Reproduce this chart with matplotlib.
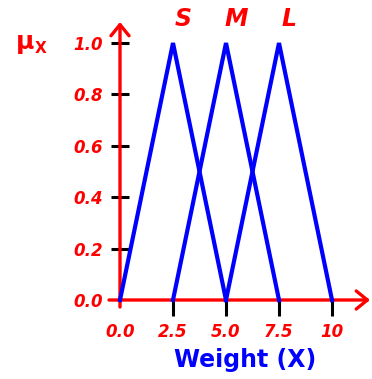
import matplotlib
matplotlib.use("Agg")
import matplotlib.pyplot as plt

# Data
sets = ["S", "M", "L"]
set_x = [[0.0, 2.5, 5.0], [2.5, 5.0, 7.5], [5.0, 7.5, 10.0]]
set_mu = [[0.0, 1.0, 0.0], [0.0, 1.0, 0.0], [0.0, 1.0, 0.0]]
x_ticks = [0.0, 2.5, 5.0, 7.5, 10.0]
x_tick_labels = ["0.0", "2.5", "5.0", "7.5", "10"]
y_ticks = [0.0, 0.2, 0.4, 0.6, 0.8, 1.0]
y_tick_labels = ["0.0", "0.2", "0.4", "0.6", "0.8", "1.0"]

W, H = 372, 379
fig = plt.figure(figsize=(W / 100, H / 100), dpi=100)
ax = fig.add_axes([0, 0, 1, 1])
sx = 21.2
sy = 257.0
x0p, y0p = 120.0, 300.0
ax.set_xlim(-x0p / sx, (W - x0p) / sx)
ax.set_ylim(-(H - y0p) / sy, y0p / sy)

for s in ["top", "right"]:
    ax.spines[s].set_visible(False)
for s in ["left", "bottom"]:
    ax.spines[s].set_position(("data", 0))
    ax.spines[s].set_visible(False)

red = "#ff0000"
blue = "#0000ff"

# Axes with arrows
ax.annotate("", xy=((370 - x0p) / sx, 0), xytext=((109 - x0p) / sx, 0),
            arrowprops=dict(arrowstyle="->,head_length=0.8,head_width=0.65",
                            lw=2.4, color=red, shrinkA=0, shrinkB=0))
ax.annotate("", xy=(0, (y0p - 22) / sy), xytext=(0, -7 / sy),
            arrowprops=dict(arrowstyle="->,head_length=0.8,head_width=0.65",
                            lw=2.4, color=red, shrinkA=0, shrinkB=0))

# Triangles
for xs, ys in zip(set_x, set_mu):
    ax.plot(xs, ys, color=blue, lw=3.0, solid_joinstyle="miter", zorder=3)

# Set labels
for name, xs in zip(sets, set_x):
    ax.text(xs[1] + 0.47, 1.093, name, color=red, fontsize=17,
            fontweight="bold", fontstyle="italic", ha="center", va="center")

ax.set_xticks(x_ticks)
ax.set_xticklabels(x_tick_labels)
ax.set_yticks(y_ticks)
ax.set_yticklabels(y_tick_labels)
ax.tick_params(axis="x", direction="out", length=11.5, width=2.2, color="black",
               pad=5, labelcolor=red, labelsize=12)
ax.tick_params(axis="y", direction="inout", length=13, width=2.2, color="black",
               pad=6, labelcolor=red, labelsize=12)
for lab in ax.get_xticklabels() + ax.get_yticklabels():
    lab.set_fontweight("bold")
    lab.set_fontstyle("italic")

ax.yaxis.get_major_ticks()[0].tick1line.set_visible(False)
ax.xaxis.get_major_ticks()[0].tick1line.set_visible(False)

fig.text(245 / W, 1 - 360 / H, "Weight (X)", color=blue, fontsize=17,
         fontweight="bold", ha="center", va="center")
fig.text(16 / W, 1 - 49 / H, "μ", color=red, fontsize=18, fontweight="bold",
         ha="left", va="baseline")
fig.text(35 / W, 1 - 53 / H, "X", color=red, fontsize=11, fontweight="bold",
         ha="left", va="baseline")

fig.savefig("out.png", dpi=100)
